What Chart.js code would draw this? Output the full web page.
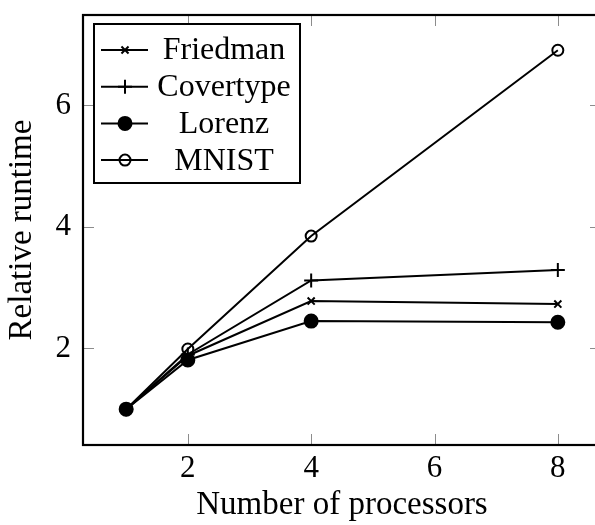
<!DOCTYPE html>
<html>
<head>
<meta charset="utf-8">
<script src="https://cdn.jsdelivr.net/npm/chart.js@4"></script>
<style>
  html, body { margin: 0; padding: 0; background: #fff; overflow: hidden; }
  #wrap { width: 610px; height: 525px; }
</style>
</head>
<body>
<div id="wrap"><canvas id="chart"></canvas></div>
<script>
// processors on the x axis
const processors = [1, 2, 4, 8];

// relative runtime per dataset
const friedman = [1.0, 1.88, 2.78, 2.73];
const covertype = [1.0, 1.90, 3.12, 3.29];
const lorenz = [1.0, 1.81, 2.45, 2.43];
const mnist = [1.0, 1.99, 3.85, 6.91];

// tick labels
const xTicks = [2, 4, 6, 8];
const yTicks = [2, 4, 6];

const serif = "'Liberation Serif', 'Times New Roman', serif";

function toPoints(vals) {
    return processors.map((p, i) => ({ x: p, y: vals[i] }));
}

const series = [
    { label: 'Friedman', data: friedman, style: 'crossRot', radius: 5, fill: false },
    { label: 'Covertype', data: covertype, style: 'cross', radius: 7, fill: false },
    { label: 'Lorenz', data: lorenz, style: 'circle', radius: 6.5, fill: true },
    { label: 'MNIST', data: mnist, style: 'circle', radius: 5.5, fill: false }
];

// draws the frame, inward ticks and the boxed legend the way pgfplots does
const framePlugin = {
    id: 'frame',
    afterDatasetsDraw(chart) {
        const ctx = chart.ctx;
        const a = chart.chartArea;
        const xs = chart.scales.x, ys = chart.scales.y;
        ctx.save();
        // inward ticks on all sides
        ctx.strokeStyle = '#8c8c8c';
        ctx.lineWidth = 1;
        const tl = 11;
        ctx.beginPath();
        xTicks.forEach(v => {
            const px = Math.round(xs.getPixelForValue(v)) + 0.5;
            ctx.moveTo(px, a.bottom); ctx.lineTo(px, a.bottom - tl);
            ctx.moveTo(px, a.top); ctx.lineTo(px, a.top + tl);
        });
        yTicks.forEach(v => {
            const py = Math.round(ys.getPixelForValue(v)) + 0.5;
            ctx.moveTo(a.left, py); ctx.lineTo(a.left + tl, py);
            ctx.moveTo(a.right, py); ctx.lineTo(a.right - tl, py);
        });
        ctx.stroke();
        // frame
        ctx.strokeStyle = '#000';
        ctx.lineWidth = 2.2;
        ctx.strokeRect(a.left, a.top, a.right - a.left, a.bottom - a.top);

        // legend box
        const bx = a.left + 11, by = a.top + 9, bw = 206, bh = 159;
        ctx.fillStyle = '#fff';
        ctx.fillRect(bx, by, bw, bh);
        ctx.lineWidth = 2;
        ctx.strokeRect(bx, by, bw, bh);
        ctx.font = '32px ' + serif;
        ctx.textAlign = 'center';
        ctx.textBaseline = 'middle';
        chart.data.datasets.forEach((ds, i) => {
            const cy = by + 26 + i * 36.7;
            ctx.strokeStyle = '#000';
            ctx.lineWidth = 2;
            ctx.beginPath();
            ctx.moveTo(bx + 7, cy); ctx.lineTo(bx + 54, cy);
            ctx.stroke();
            ctx.fillStyle = ds.pointBackgroundColor;
            Chart.helpers.drawPoint(ctx, {
                pointStyle: ds.pointStyle,
                radius: ds.pointRadius,
                borderWidth: 2
            }, bx + 31, cy);
            ctx.fillStyle = '#000';
            ctx.fillText(ds.label, bx + 130, cy + 1);
        });
        ctx.restore();
    }
};

new Chart(document.getElementById('chart'), {
    type: 'line',
    data: {
        datasets: series.map(s => ({
            label: s.label,
            data: toPoints(s.data),
            borderColor: '#000',
            borderWidth: 2,
            pointStyle: s.style,
            pointRadius: s.radius,
            pointBorderWidth: 2,
            pointBorderColor: '#000',
            pointBackgroundColor: s.fill ? '#000' : 'rgba(0,0,0,0)',
            tension: 0,
            fill: false
        }))
    },
    options: {
        responsive: true,
        maintainAspectRatio: false,
        animation: false,
        layout: { padding: { top: 15, right: 9, left: 0, bottom: 0 } },
        plugins: {
            legend: { display: false },
            tooltip: { enabled: false }
        },
        scales: {
            x: {
                type: 'linear',
                min: 0.3,
                max: 8.7,
                afterBuildTicks: s => { s.ticks = xTicks.map(v => ({ value: v })); },
                afterFit: s => { s.height = 80; s.paddingLeft = 0; s.paddingRight = 0; },
                grid: { display: false, drawTicks: false },
                border: { display: false },
                ticks: { color: '#000', font: { family: serif, size: 31 }, padding: 5 },
                title: {
                    display: true, text: 'Number of processors', color: '#000',
                    font: { family: serif, size: 33 }, padding: { top: 0, bottom: 0 }
                }
            },
            y: {
                type: 'linear',
                min: 0.41,
                max: 7.49,
                afterBuildTicks: s => { s.ticks = yTicks.map(v => ({ value: v })); },
                afterFit: s => { s.width = 83; s.paddingTop = 0; s.paddingBottom = 0; },
                grid: { display: false, drawTicks: false },
                border: { display: false },
                ticks: { color: '#000', font: { family: serif, size: 31 }, padding: 12 },
                title: {
                    display: true, text: 'Relative runtime', color: '#000',
                    font: { family: serif, size: 33 }, padding: { top: 3, bottom: 0 }
                }
            }
        }
    },
    plugins: [framePlugin]
});
</script>
</body>
</html>
